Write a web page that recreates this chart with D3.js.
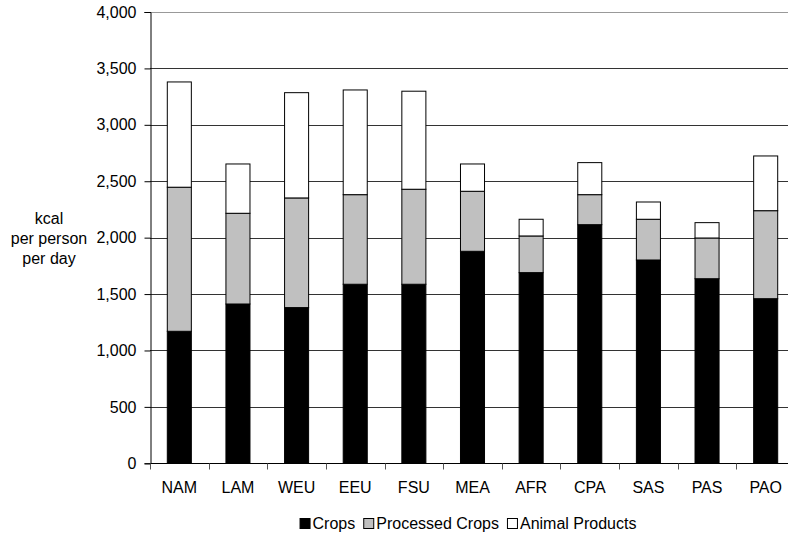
<!DOCTYPE html>
<html lang="en">
<head>
  <meta charset="UTF-8">
  <title>kcal per person per day</title>
  <script src="https://d3js.org/d3.v7.min.js"></script>
  <style>
    body { margin: 0; background: #fff; }
    text { font-family: "Liberation Sans", Arial, sans-serif; fill: #000; }
    .grid line { stroke: #333; stroke-width: 1px; }
  </style>
</head>
<body>
  <svg width="788" height="538"></svg>
  <script>
    const regions = ["NAM", "LAM", "WEU", "EEU", "FSU", "MEA", "AFR", "CPA", "SAS", "PAS", "PAO"];
    const crops = [1170, 1412, 1380, 1587, 1587, 1879, 1690, 2115, 1802, 1636, 1459];
    const processed = [1277, 804, 972, 794, 842, 532, 325, 266, 361, 361, 780];
    const animal = [933, 437, 933, 928, 869, 242, 148, 284, 153, 136, 485];
    const seriesNames = ["Crops", "Processed Crops", "Animal Products"];
    const seriesColors = ["#000000", "#c0c0c0", "#ffffff"];
    const yTicks = [0, 500, 1000, 1500, 2000, 2500, 3000, 3500, 4000];

    const svg = d3.select("svg");
    const plotLeft = 150, plotTop = 12, plotBottom = 463.3, plotRight = 795;
    const fontSize = "16px";

    const x = d3.scaleBand().domain(regions).range([plotLeft, plotRight]).paddingInner(0.59).paddingOuter(0.295);
    const xOuter = d3.scaleBand().domain(regions).range([plotLeft, plotRight]);
    const y = d3.scaleLinear().domain([0, 4000]).range([plotBottom, plotTop]);

    // gridlines
    svg.append("g").attr("class", "grid")
      .selectAll("line").data(yTicks.slice(1)).enter().append("line")
      .attr("x1", plotLeft).attr("x2", plotRight)
      .attr("y1", d => Math.round(y(d)) + 0.5).attr("y2", d => Math.round(y(d)) + 0.5)
      .style("stroke", d => d === 4000 ? "#999" : "#333");

    const rows = regions.map((r, i) => ({ region: r, Crops: crops[i], "Processed Crops": processed[i], "Animal Products": animal[i] }));
    const stacked = d3.stack().keys(seriesNames)(rows);

    svg.append("g").selectAll("g").data(stacked).enter().append("g")
      .attr("fill", (d, i) => seriesColors[i])
      .selectAll("rect").data(d => d).enter().append("rect")
      .attr("x", d => x(d.data.region))
      .attr("width", x.bandwidth())
      .attr("y", d => y(d[1]))
      .attr("height", d => y(d[0]) - y(d[1]))
      .attr("stroke", "#000")
      .attr("stroke-width", 1);

    // y axis
    const yAxis = svg.append("g").attr("transform", `translate(${plotLeft + 0.5},0)`)
      .call(d3.axisLeft(y).tickValues(yTicks).tickSize(6).tickPadding(8).tickFormat(d3.format(",")));
    yAxis.select(".domain").attr("stroke", "#000");
    yAxis.selectAll(".tick line").attr("stroke", "#000");
    yAxis.selectAll("text").style("font-size", fontSize).attr("fill", "#000")
      .style("font-family", "'Liberation Sans', Arial, sans-serif");

    // x axis
    const xAxis = svg.append("g").attr("transform", `translate(0,${Math.round(plotBottom) + 0.5})`);
    xAxis.append("line").attr("x1", plotLeft).attr("x2", plotRight).attr("stroke", "#000");
    xAxis.selectAll(".xt").data(regions).enter().append("line")
      .attr("x1", d => Math.round(xOuter(d)) + 0.5).attr("x2", d => Math.round(xOuter(d)) + 0.5)
      .attr("y1", 0).attr("y2", 6).attr("stroke", "#555");
    xAxis.selectAll(".xl").data(regions).enter().append("text")
      .attr("x", d => x(d) + x.bandwidth() / 2).attr("y", 29.5)
      .attr("text-anchor", "middle").style("font-size", fontSize).text(d => d);

    // axis title
    const title = svg.append("text").attr("text-anchor", "middle").style("font-size", fontSize);
    ["kcal", "per person", "per day"].forEach((t, i) => {
      title.append("tspan").attr("x", 49).attr("y", 223.5 + i * 20).text(t);
    });

    // legend, centred under the plot
    const legend = svg.append("g");
    let lx = 0;
    seriesNames.forEach((name, i) => {
      legend.append("rect").attr("x", lx + 0.5).attr("y", -10.5).attr("width", 10).attr("height", 10)
        .attr("fill", seriesColors[i]).attr("stroke", "#000");
      const t = legend.append("text").attr("x", lx + 13).attr("y", 0).style("font-size", fontSize).text(name);
      lx += 13 + t.node().getComputedTextLength() + 8;
    });
    lx -= 8;
    legend.attr("transform", `translate(${468 - lx / 2},529)`);
  </script>
</body>
</html>
